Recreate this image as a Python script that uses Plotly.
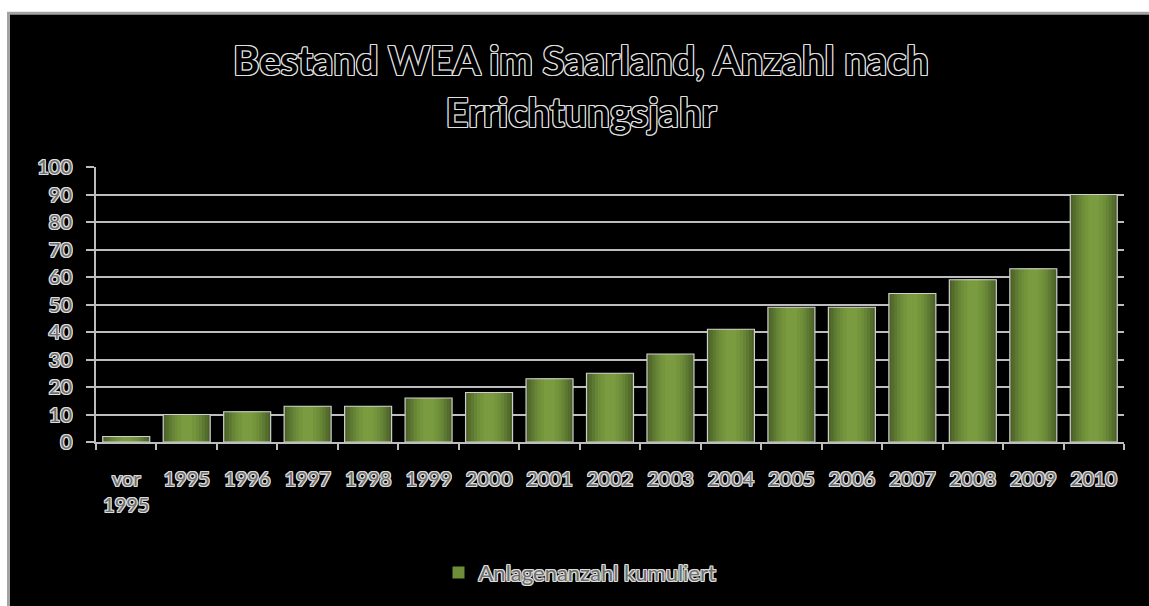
import plotly.graph_objects as go

# Kumulierte Anzahl der Windenergieanlagen im Saarland je Errichtungsjahr
categories = ["vor<br>1995", "1995", "1996", "1997", "1998", "1999", "2000",
              "2001", "2002", "2003", "2004", "2005", "2006", "2007", "2008",
              "2009", "2010"]
anlagen_kumuliert = [2, 10, 11, 13, 13, 16, 18, 23, 25, 32, 41, 49, 49, 54,
                     59, 63, 90]
y_ticks = [0, 10, 20, 30, 40, 50, 60, 70, 80, 90, 100]
series_name = "Anlagenanzahl kumuliert"
title_text = "Bestand WEA im Saarland, Anzahl nach<br>Errichtungsjahr"

W, H = 1149, 606
ML, MR, MT, MB = 96, 25, 167, 161
PW, PH = W - ML - MR, H - MT - MB


def outline(color, d=1):
    return (f"{d}px 0 0 {color}, -{d}px 0 0 {color}, 0 {d}px 0 {color}, "
            f"0 -{d}px 0 {color}, {d}px {d}px 0 {color}, -{d}px -{d}px 0 {color}, "
            f"{d}px -{d}px 0 {color}, -{d}px {d}px 0 {color}")


def px_x(px):
    return (px - ML) / PW


def px_y(py):
    return (H - MB - py) / PH


fig = go.Figure()

# Zylinder-Schattierung: mehrere schmaler werdende Balken übereinander
layers = [
    (0.777, "#4b6127"),
    (0.70, "#546d2c"),
    (0.60, "#5e7931"),
    (0.50, "#678536"),
    (0.40, "#6f8e3a"),
    (0.30, "#75953d"),
    (0.18, "#7a9b40"),
]
for w, col in layers:
    fig.add_trace(go.Bar(
        x=categories, y=anlagen_kumuliert, width=w,
        marker=dict(color=col, line=dict(width=0)),
        name=series_name, showlegend=False, hoverinfo="skip",
    ))

# Heller Umriss um jeden Balken
fig.add_trace(go.Bar(
    x=categories, y=anlagen_kumuliert, width=0.777,
    marker=dict(color="rgba(0,0,0,0)", line=dict(color="#cfcfcf", width=1.2)),
    name=series_name, showlegend=False,
))

# Legendeneintrag mit grünem Quadrat
fig.add_trace(go.Bar(
    x=[categories[0]], y=[None], name=series_name,
    marker=dict(color="#6f8e3a", line=dict(width=0)), showlegend=True,
))

label_font = dict(family="Lato", size=20, color="#6e6e6e",
                  shadow=outline("#dcdcdc"))

fig.update_layout(
    width=W, height=H, autosize=False,
    margin=dict(l=ML, r=MR, t=MT, b=MB, pad=0),
    paper_bgcolor="white", plot_bgcolor="black",
    barmode="overlay",
    title=dict(
        text=title_text, x=581 / W, xref="container", xanchor="center",
        y=1 - 75 / H, yanchor="top",
        font=dict(family="Lato", size=40, weight="bold", color="black",
                  shadow=outline("#e0e0e0")),
    ),
    showlegend=True,
    legend=dict(
        orientation="h", x=px_x(580), xanchor="center",
        y=px_y(577), yanchor="middle",
        font=dict(family="Lato", size=22, color="#6e6e6e",
                  shadow=outline("#dcdcdc")),
        bgcolor="rgba(0,0,0,0)", itemwidth=30,
    ),
    xaxis=dict(
        type="category", showgrid=False, showline=True,
        linecolor="#bdbdbd", linewidth=2,
        ticks="outside", tickson="boundaries", ticklen=6,
        tickcolor="#bdbdbd", tickwidth=2,
        tickfont=label_font, ticklabelstandoff=18,
        fixedrange=True,
    ),
    yaxis=dict(
        range=[0, 100], tickvals=y_ticks, showgrid=True,
        gridcolor="#bdbdbd", gridwidth=2,
        showline=True, linecolor="#bdbdbd", linewidth=2,
        ticks="outside", ticklen=8, tickcolor="#bdbdbd", tickwidth=2,
        tickfont=label_font, ticklabelstandoff=10,
        zeroline=False, fixedrange=True,
    ),
    shapes=[
        # schwarzer Diagrammbereich mit grauem Rahmen
        dict(type="rect", xref="paper", yref="paper", layer="below",
             x0=px_x(8.5), x1=px_x(W + 20), y0=px_y(H + 20), y1=px_y(11.5),
             fillcolor="black", line=dict(color="#a3a3a3", width=3)),
    ],
)

fig.write_html("out.html")
